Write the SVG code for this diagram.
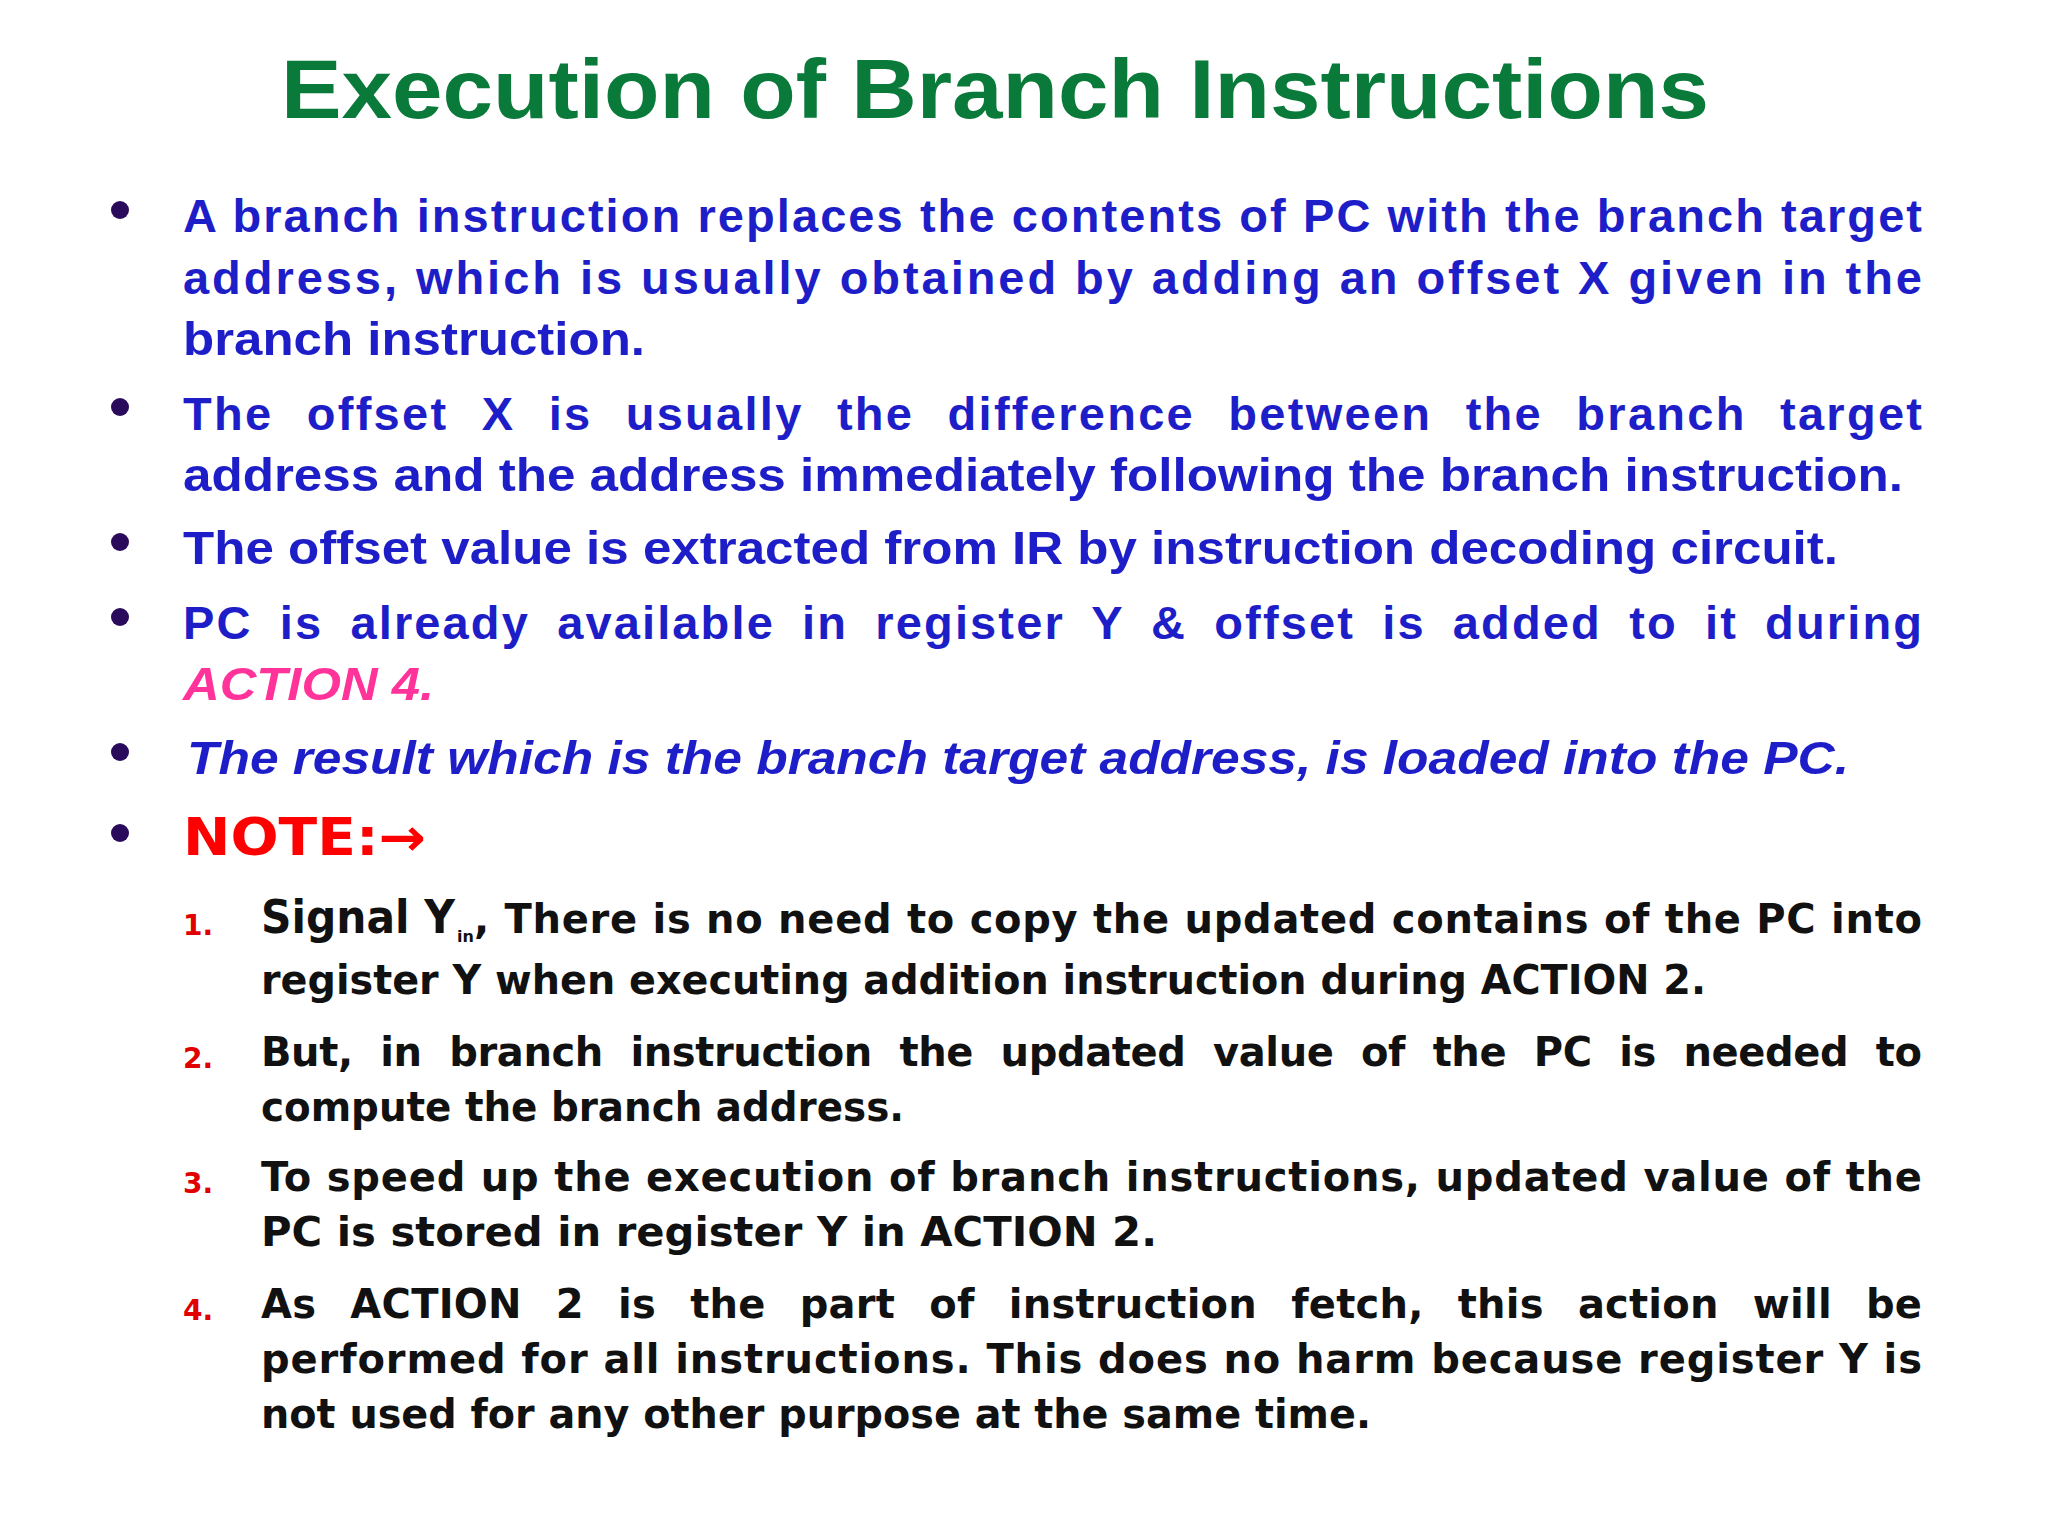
<svg xmlns="http://www.w3.org/2000/svg" width="2048" height="1536" viewBox="0 0 2048 1536">
<style>
.t{font-family:"Liberation Sans",Arial,sans-serif;font-weight:bold;font-size:84px;fill:#0a7a3a}
.b{font-family:"Liberation Sans",Arial,sans-serif;font-weight:bold;font-size:47px;fill:#1e1ec8}
.i{font-style:italic}
.p{fill:#ff3399}
.n{font-family:"DejaVu Sans",sans-serif;font-weight:bold;font-size:40px;fill:#111}
.num{font-family:"DejaVu Sans",sans-serif;font-weight:bold;font-size:28px;fill:#e00000}
.note{font-family:"DejaVu Sans",sans-serif;font-weight:bold;font-size:52px;fill:#ff0000}
.d{fill:#2a0a5a}
</style>
<rect width="2048" height="1536" fill="#fff"/>
<text class="t" x="995" y="118" text-anchor="middle" textLength="1428" lengthAdjust="spacingAndGlyphs">Execution of Branch Instructions</text>
<g id="bullets">
<circle class="d" cx="120" cy="210" r="9"/>
<circle class="d" cx="120" cy="407" r="9"/>
<circle class="d" cx="120" cy="542" r="9"/>
<circle class="d" cx="120" cy="617" r="9"/>
<circle class="d" cx="120" cy="752" r="9"/>
<circle class="d" cx="120" cy="833" r="9"/>
</g>
<g id="text">
<text class="b" x="183" y="232" textLength="1739" lengthAdjust="spacing">A branch instruction replaces the contents of PC with the branch target</text>
<text class="b" x="183" y="294" textLength="1739" lengthAdjust="spacing">address, which is usually obtained by adding an offset X given in the</text>
<text class="b" x="183" y="355" textLength="462" lengthAdjust="spacingAndGlyphs">branch instruction.</text>
<text class="b" x="183" y="430" textLength="1739" lengthAdjust="spacing" style="word-spacing:18px">The offset X is usually the difference between the branch target</text>
<text class="b" x="183" y="491" textLength="1720" lengthAdjust="spacingAndGlyphs">address and the address immediately following the branch instruction.</text>
<text class="b" x="183" y="564" textLength="1655" lengthAdjust="spacingAndGlyphs">The offset value is extracted from IR by instruction decoding circuit.</text>
<text class="b" x="183" y="639" textLength="1739" lengthAdjust="spacing" style="word-spacing:12px">PC is already available in register Y &amp; offset is added to it during</text>
<text class="b i p" x="183" y="700" textLength="251" lengthAdjust="spacingAndGlyphs">ACTION 4.</text>
<text class="b i" x="187" y="774" textLength="1662" lengthAdjust="spacingAndGlyphs">The  result which is the branch target address, is loaded into the PC.</text>
<text class="note" x="183" y="855" textLength="243" lengthAdjust="spacingAndGlyphs">NOTE:→</text>
</g>
<g id="notes">
<text class="num" x="183" y="935">1.</text>
<text class="n" x="261" y="933" style="font-size:46px" textLength="194" lengthAdjust="spacingAndGlyphs">Signal Y</text>
<text class="n" x="457" y="942" style="font-size:16px">in</text>
<text class="n" x="474" y="933" textLength="1448" lengthAdjust="spacing">, There is no need to copy the updated contains of the PC into</text>
<text class="n" x="261" y="994" textLength="1445" lengthAdjust="spacingAndGlyphs">register Y when executing addition instruction during ACTION 2.</text>
<text class="num" x="183" y="1068">2.</text>
<text class="n" x="261" y="1066" textLength="1661" lengthAdjust="spacing" style="word-spacing:14px">But, in branch instruction the updated value of the PC is needed to</text>
<text class="n" x="261" y="1121" textLength="643" lengthAdjust="spacingAndGlyphs">compute the branch address.</text>
<text class="num" x="183" y="1193">3.</text>
<text class="n" x="261" y="1191" textLength="1661" lengthAdjust="spacing">To speed up the execution of branch instructions, updated value of the</text>
<text class="n" x="261" y="1246" textLength="896" lengthAdjust="spacingAndGlyphs">PC is stored in register Y in ACTION 2.</text>
<text class="num" x="183" y="1320">4.</text>
<text class="n" x="261" y="1318" textLength="1661" lengthAdjust="spacing" style="word-spacing:20px">As ACTION 2 is the part of instruction fetch, this action will be</text>
<text class="n" x="261" y="1373" textLength="1661" lengthAdjust="spacing">performed for all instructions. This does no harm because register Y is</text>
<text class="n" x="261" y="1428" textLength="1110" lengthAdjust="spacingAndGlyphs">not used for any other purpose at the same time.</text>
</g>
</svg>
